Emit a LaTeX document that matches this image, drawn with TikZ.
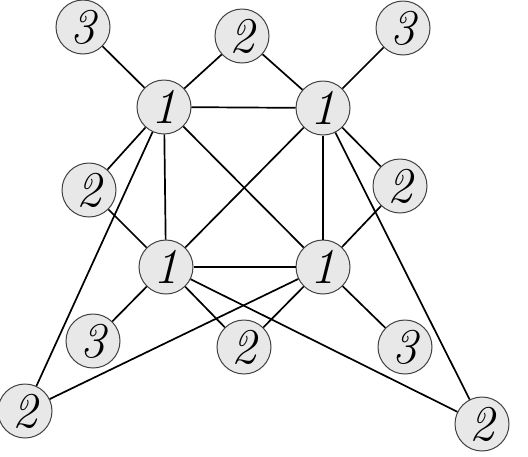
\documentclass[tikz,border=0pt]{standalone}
\usepackage{fontspec}
\begin{document}
\begin{tikzpicture}[x=1pt,y=-1pt,
  vtx/.style={circle,draw=black!75,line width=1pt,fill=black!9,minimum size=54pt,inner sep=0pt,font=\fontsize{50}{50}\selectfont\itshape},
  edge/.style={line width=1.7pt,black}]
\useasboundingbox (0,0) rectangle (528,456);
\node[vtx] (a3) at (83,27) {3};
\node[vtx] (t2) at (242,36) {2};
\node[vtx] (b3) at (403,28) {3};
\node[vtx] (ul) at (164,107) {1};
\node[vtx] (ur) at (323,108) {1};
\node[vtx] (l2) at (89,190) {2};
\node[vtx] (r2) at (400,186) {2};
\node[vtx] (ll) at (166,267) {1};
\node[vtx] (lr) at (323,267) {1};
\node[vtx] (c3) at (93,341) {3};
\node[vtx] (m2) at (244,347) {2};
\node[vtx] (d3) at (405,347) {3};
\node[vtx] (bl) at (25,411) {2};
\node[vtx] (br) at (482,424) {2};
\foreach \u/\v in {a3/ul,t2/ul,t2/ur,b3/ur,ul/ur,ul/l2,ul/bl,ul/ll,ul/lr,ur/ll,ur/lr,ur/r2,ur/br,l2/ll,r2/lr,ll/lr,ll/c3,ll/m2,ll/br,lr/bl,lr/m2,lr/d3}
  \draw[edge] (\u) -- (\v);
\end{tikzpicture}
\end{document}
